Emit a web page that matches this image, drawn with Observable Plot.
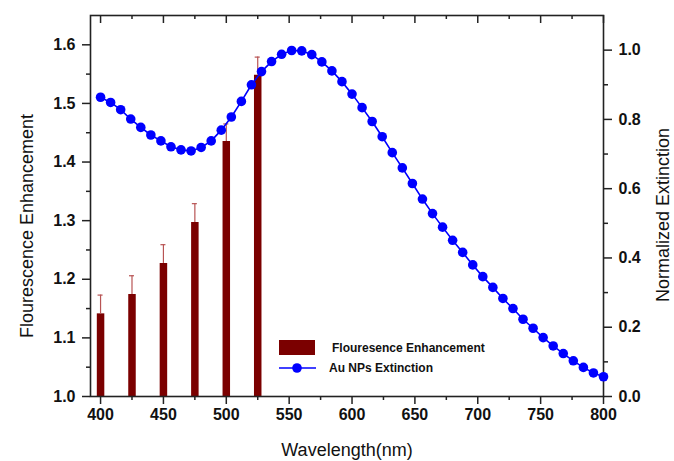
<!DOCTYPE html>
<html><head><meta charset="utf-8">
<script src="https://cdn.jsdelivr.net/npm/d3@7"></script>
<script src="https://cdn.jsdelivr.net/npm/@observablehq/plot@0.6"></script>
<style>
html,body{margin:0;padding:0;background:#fff;}
#chart{width:674px;height:461px;}
</style></head><body><div id="chart"></div>
<script>
// Fluorescence enhancement bars (left axis)
const feWavelengths = [400, 425, 450, 475, 500, 525];
const feValues = [1.141, 1.174, 1.227, 1.297, 1.435, 1.548];
const feErrors = [0.032, 0.032, 0.032, 0.032, 0.030, 0.031];

// Au NPs extinction (right axis, normalized)
const extWavelengths = [400,408,416,424,432,440,448,456,464,472,480,488,496,504,512,520,528,536,544,552,560,568,576,584,592,600,608,616,624,632,640,648,656,664,672,680,688,696,704,712,720,728,736,744,752,760,768,776,784,792,800];
const extValues = [0.864,0.849,0.828,0.801,0.777,0.755,0.738,0.721,0.712,0.709,0.719,0.738,0.769,0.807,0.852,0.900,0.938,0.967,0.988,0.999,0.998,0.987,0.966,0.940,0.909,0.873,0.834,0.794,0.750,0.704,0.660,0.615,0.570,0.528,0.489,0.451,0.416,0.380,0.346,0.315,0.283,0.254,0.223,0.197,0.170,0.146,0.124,0.103,0.084,0.068,0.057];

// Tick labels
const xMajorTicks = [400, 450, 500, 550, 600, 650, 700, 750, 800];
const xMinorTicks = [425, 475, 525, 575, 625, 675, 725, 775];
const leftMajorTicks = [1.0, 1.1, 1.2, 1.3, 1.4, 1.5, 1.6];
const leftMinorTicks = [1.05, 1.15, 1.25, 1.35, 1.45, 1.55];
const rightMajorTicks = [0.0, 0.2, 0.4, 0.6, 0.8, 1.0];
const rightMinorTicks = [0.1, 0.3, 0.5, 0.7, 0.9];

const leftDomain = [1.0, 1.65];
const rightDomain = [0.0, 1.1];
const K = (leftDomain[1] - leftDomain[0]) / (rightDomain[1] - rightDomain[0]);
const toLeft = v => leftDomain[0] + (v - rightDomain[0]) * K;
const fromLeft = y => rightDomain[0] + (y - leftDomain[0]) / K;

const feData = feWavelengths.map((w, i) => ({w, fe: feValues[i], top: feValues[i] + feErrors[i]}));
const extData = extWavelengths.map((w, i) => ({w, v: extValues[i]}));

const fontFam = "'Liberation Sans', Arial, Helvetica, sans-serif";
const axisColor = "#222";
const tickFont = {fontSize: 16, fontWeight: "bold", fill: "#111"};

const plot = Plot.plot({
  width: 674, height: 461,
  marginLeft: 90, marginRight: 71, marginTop: 15, marginBottom: 65,
  style: {fontFamily: fontFam, background: "white", color: axisColor},
  x: {domain: [392, 800]},
  y: {domain: leftDomain},
  marks: [
    Plot.ruleX(feData, {x: "w", y1: leftDomain[0], y2: "fe", stroke: "#7b0000", strokeWidth: 7.5}),
    Plot.ruleX(feData, {x: "w", y1: "fe", y2: "top", stroke: "#b85454", strokeWidth: 1.2}),
    Plot.ruleY(feData, {y: "top", x1: d => d.w - 2, x2: d => d.w + 2, stroke: "#b85454", strokeWidth: 1.2}),
    Plot.axisX(xMajorTicks, {anchor: "bottom", tickSize: 8, tickPadding: 4, ...tickFont, tickFormat: d => String(d), label: null, strokeWidth: 1.5}),
    Plot.axisX(xMinorTicks, {anchor: "bottom", tickSize: 4, tickFormat: () => "", label: null, strokeWidth: 1.5}),
    Plot.axisX(xMajorTicks, {anchor: "bottom", frameAnchor: "top", tickSize: 8, tickFormat: () => "", label: null, strokeWidth: 1.5}),
    Plot.axisX(xMinorTicks, {anchor: "bottom", frameAnchor: "top", tickSize: 4, tickFormat: () => "", label: null, strokeWidth: 1.5}),
    Plot.axisY(leftMajorTicks, {anchor: "left", tickSize: 8, tickPadding: 7, ...tickFont, tickFormat: d => d.toFixed(1), label: null, strokeWidth: 1.5}),
    Plot.axisY(leftMinorTicks, {anchor: "left", tickSize: 4, tickFormat: () => "", label: null, strokeWidth: 1.5}),
    Plot.axisY(rightMajorTicks.map(toLeft), {anchor: "right", tickSize: 8, tickPadding: 7, ...tickFont, tickFormat: d => fromLeft(d).toFixed(1), label: null, strokeWidth: 1.5}),
    Plot.axisY(rightMinorTicks.map(toLeft), {anchor: "right", tickSize: 4, tickFormat: () => "", label: null, strokeWidth: 1.5}),
    Plot.frame({stroke: axisColor, strokeWidth: 1.6}),
    Plot.line(extData, {x: "w", y: d => toLeft(d.v), stroke: "#0000ff", strokeWidth: 1.6}),
    Plot.dot(extData, {x: "w", y: d => toLeft(d.v), r: 4.8, fill: "#0000ff", stroke: "none"})
  ]
});

const svg = d3.select(plot);
const g = svg.append("g").attr("font-family", fontFam).attr("text-anchor", "start");
// axis titles
g.append("text").attr("x", 347).attr("y", 456).attr("text-anchor", "middle").attr("font-size", 18).attr("fill", "#111").text("Wavelength(nm)");
g.append("text").attr("transform", "translate(33,226) rotate(-90)").attr("text-anchor", "middle").attr("font-size", 18).attr("fill", "#111").text("Flourescence Enhancement");
g.append("text").attr("transform", "translate(669,215) rotate(-90)").attr("text-anchor", "middle").attr("font-size", 18).attr("fill", "#111").text("Normalized Extinction");
// legend
g.append("rect").attr("x", 279).attr("y", 340).attr("width", 36).attr("height", 15).attr("fill", "#7b0000");
g.append("text").attr("x", 332).attr("y", 352).attr("text-anchor", "start").attr("font-size", 12).attr("font-weight", "bold").attr("fill", "#111").text("Flouresence Enhancement");
g.append("line").attr("x1", 279).attr("x2", 316).attr("y1", 368).attr("y2", 368).attr("stroke", "#0000ff").attr("stroke-width", 1.6);
g.append("circle").attr("cx", 297).attr("cy", 368).attr("r", 4.8).attr("fill", "#0000ff");
g.append("text").attr("x", 329).attr("y", 372).attr("text-anchor", "start").attr("font-size", 12).attr("font-weight", "bold").attr("fill", "#111").text("Au NPs Extinction");

document.getElementById("chart").appendChild(plot);
</script>
</body></html>
